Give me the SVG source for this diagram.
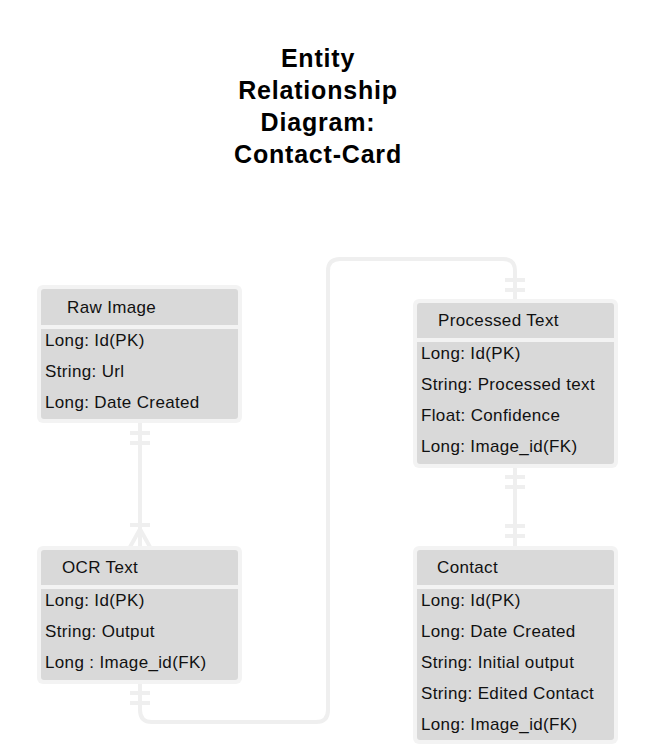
<svg xmlns="http://www.w3.org/2000/svg" width="656" height="754" viewBox="0 0 656 754">
<style>
.title{font-family:"Liberation Sans",Arial,sans-serif;font-weight:bold;font-size:25px;letter-spacing:0.8px;fill:#000;text-anchor:middle}
.t{font-family:"Liberation Sans",Arial,sans-serif;font-size:17px;letter-spacing:0.35px;fill:#111}
.frame{fill:#f3f3f3}
.body{fill:#d9d9d9}
.sep{stroke:#f3f3f3;stroke-width:4}
.conn{fill:none;stroke:#efefef;stroke-width:4}
</style>
<rect width="656" height="754" fill="#ffffff"/>
<g id="title">
<text class="title" x="318" y="67">Entity</text>
<text class="title" x="318" y="99">Relationship</text>
<text class="title" x="318" y="131">Diagram:</text>
<text class="title" x="318" y="163">Contact-Card</text>
</g>
<g id="connectors">
<path class="conn" d="M140,422 V546"/>
<path class="conn" d="M130,433 H150 M130,443 H150 M130,525 H150"/>
<path class="conn" d="M130,547 L140,529 L150,547"/>
<path class="conn" d="M140,683 V710 Q140,722 152,722 H316 Q328,722 328,710 V271 Q328,259 340,259 H503 Q515,259 515,271 V299"/>
<path class="conn" d="M130,693 H150 M130,703 H150 M505,280 H525 M505,290 H525"/>
<path class="conn" d="M515,467 V546"/>
<path class="conn" d="M505,477 H525 M505,487 H525 M505,526 H525 M505,536 H525"/>
</g>
<g id="raw-image">
<rect class="frame" x="37" y="285" width="205" height="138" rx="6"/>
<rect class="body" x="41" y="289" width="197" height="130" rx="3"/>
<line class="sep" x1="41" y1="327" x2="238" y2="327"/>
<text class="t" x="67" y="313">Raw Image</text>
<text class="t" x="45" y="346">Long: Id(PK)</text>
<text class="t" x="45" y="377">String: Url</text>
<text class="t" x="45" y="408">Long: Date Created</text>
</g>
<g id="processed-text">
<rect class="frame" x="413" y="299" width="205" height="169" rx="6"/>
<rect class="body" x="417" y="303" width="197" height="161" rx="3"/>
<line class="sep" x1="417" y1="340" x2="614" y2="340"/>
<text class="t" x="438" y="326">Processed Text</text>
<text class="t" x="421" y="359">Long: Id(PK)</text>
<text class="t" x="421" y="390">String: Processed text</text>
<text class="t" x="421" y="421">Float: Confidence</text>
<text class="t" x="421" y="452">Long: Image_id(FK)</text>
</g>
<g id="ocr-text">
<rect class="frame" x="37" y="546" width="205" height="138" rx="6"/>
<rect class="body" x="41" y="550" width="197" height="130" rx="3"/>
<line class="sep" x1="41" y1="587" x2="238" y2="587"/>
<text class="t" x="62" y="573">OCR Text</text>
<text class="t" x="45" y="606">Long: Id(PK)</text>
<text class="t" x="45" y="637">String: Output</text>
<text class="t" x="45" y="668">Long : Image_id(FK)</text>
</g>
<g id="contact">
<rect class="frame" x="413" y="546" width="205" height="198" rx="6"/>
<rect class="body" x="417" y="550" width="197" height="190" rx="3"/>
<line class="sep" x1="417" y1="587" x2="614" y2="587"/>
<text class="t" x="437" y="573">Contact</text>
<text class="t" x="421" y="606">Long: Id(PK)</text>
<text class="t" x="421" y="637">Long: Date Created</text>
<text class="t" x="421" y="668">String: Initial output</text>
<text class="t" x="421" y="699">String: Edited Contact</text>
<text class="t" x="421" y="730">Long: Image_id(FK)</text>
</g>
</svg>
